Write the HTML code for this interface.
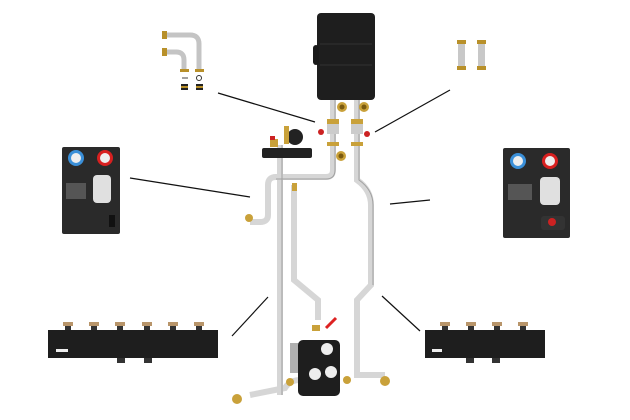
<!DOCTYPE html>
<html><head><meta charset="utf-8"><style>
html,body{margin:0;padding:0;background:#fff;width:630px;height:420px;overflow:hidden}
</style></head><body>
<svg width="630" height="420" viewBox="0 0 630 420" xmlns="http://www.w3.org/2000/svg">
<!-- leader lines -->
<g stroke="#111" stroke-width="1.2">
<line x1="130" y1="178" x2="250" y2="197"/>
<line x1="218" y1="93" x2="315" y2="122"/>
<line x1="375" y1="132" x2="450" y2="90"/>
<line x1="390" y1="204" x2="430" y2="200"/>
<line x1="232" y1="336" x2="268" y2="297"/>
<line x1="382" y1="296" x2="420" y2="331"/>
</g>
<!-- top-left fittings -->
<path d="M166 35 H190 Q199 35 199 44 V70" fill="none" stroke="#c4c4c4" stroke-width="5"/>
<path d="M166 52 H176 Q184 52 184 60 V70" fill="none" stroke="#c4c4c4" stroke-width="5"/>
<rect x="162" y="31" width="5" height="8" fill="#b8902a"/>
<rect x="162" y="48" width="5" height="8" fill="#b8902a"/>
<rect x="180" y="69" width="9" height="3" fill="#b8902a"/>
<rect x="195" y="69" width="9" height="3" fill="#b8902a"/>
<rect x="181" y="84" width="7" height="6" fill="#222"/><rect x="181" y="86" width="7" height="2" fill="#b8902a"/>
<rect x="196" y="84" width="7" height="6" fill="#222"/><rect x="196" y="86" width="7" height="2" fill="#b8902a"/>
<line x1="182" y1="78" x2="188" y2="78" stroke="#444"/>
<circle cx="199" cy="78" r="2.5" fill="none" stroke="#333"/>
<!-- top-right fittings -->
<rect x="458" y="43" width="7" height="25" fill="#c8c8c8"/><rect x="457" y="40" width="9" height="4" fill="#b8902a"/><rect x="457" y="66" width="9" height="4" fill="#b8902a"/>
<rect x="478" y="43" width="7" height="25" fill="#c8c8c8"/><rect x="477" y="40" width="9" height="4" fill="#b8902a"/><rect x="477" y="66" width="9" height="4" fill="#b8902a"/>
<!-- boiler -->
<rect x="317" y="13" width="58" height="87" rx="4" fill="#1e1e1e"/>
<rect x="313" y="45" width="6" height="20" rx="3" fill="#1a1a1a"/>
<line x1="320" y1="44" x2="372" y2="44" stroke="#333"/><line x1="320" y1="65" x2="372" y2="65" stroke="#333"/>
<!-- pipes -->
<g fill="none" stroke="#d6d6d6" stroke-width="6">
<path d="M333 100 V170 Q333 177 326 177 H276 Q268 177 268 185 V215 Q268 222 260 222 H250"/>
<path d="M280 145 V395"/>
<path d="M294 185 V280 L318 300 V320"/>
<path d="M357 100 V180 Q371 190 371 205 V285 L357 300 V375 H385"/>
<path d="M300 380 Q290 380 285 388 L250 395"/>
</g>
<g fill="none" stroke="#a0a0a0" stroke-width="1">
<path d="M335 100 V170 Q335 179 326 179 H276"/>
<path d="M282 145 V395"/>
<path d="M359 100 V180 Q373 190 373 205 V285"/>
</g>
<!-- boiler fittings -->
<circle cx="342" cy="107" r="5" fill="#c9a13a"/><circle cx="342" cy="107" r="2.5" fill="#7a5a10"/>
<circle cx="364" cy="107" r="5" fill="#c9a13a"/><circle cx="364" cy="107" r="2.5" fill="#7a5a10"/>
<rect x="327" y="119" width="12" height="5" fill="#c9a13a"/><rect x="327" y="124" width="12" height="10" fill="#ccc"/><rect x="327" y="142" width="12" height="4" fill="#c9a13a"/>
<rect x="351" y="119" width="12" height="5" fill="#c9a13a"/><rect x="351" y="124" width="12" height="10" fill="#ccc"/><rect x="351" y="142" width="12" height="4" fill="#c9a13a"/>
<circle cx="321" cy="132" r="3" fill="#c22"/><circle cx="367" cy="134" r="3" fill="#c22"/>
<circle cx="341" cy="156" r="5" fill="#c9a13a"/><circle cx="341" cy="156" r="2.5" fill="#7a5a10"/>
<!-- safety group -->
<rect x="262" y="148" width="50" height="10" rx="2" fill="#222"/>
<circle cx="295" cy="137" r="8" fill="#222"/>
<rect x="284" y="126" width="5" height="18" fill="#c9a13a"/>
<rect x="270" y="139" width="8" height="8" fill="#c9a13a"/><rect x="270" y="136" width="5" height="4" fill="#c22"/>
<rect x="292" y="183" width="5" height="8" fill="#c9a13a"/>
<circle cx="249" cy="218" r="4" fill="#c9a13a"/>
<!-- mixing unit -->
<rect x="290" y="343" width="30" height="30" fill="#b0b0b0"/>
<rect x="298" y="340" width="42" height="56" rx="5" fill="#1e1e1e"/>
<circle cx="327" cy="349" r="6" fill="#eee"/><circle cx="315" cy="374" r="6" fill="#eee"/><circle cx="331" cy="372" r="6" fill="#eee"/>
<rect x="312" y="325" width="8" height="6" fill="#c9a13a"/>
<line x1="326" y1="328" x2="336" y2="318" stroke="#d22" stroke-width="3"/>
<circle cx="290" cy="382" r="4" fill="#c9a13a"/><circle cx="347" cy="380" r="4" fill="#c9a13a"/>
<circle cx="385" cy="381" r="5" fill="#c9a13a"/><circle cx="237" cy="399" r="5" fill="#c9a13a"/>
<!-- left pump station -->
<rect x="62" y="147" width="58" height="87" rx="2" fill="#2a2a2a"/>
<circle cx="76" cy="158" r="8" fill="#3a8fd8"/><circle cx="76" cy="158" r="5" fill="#eee"/>
<circle cx="105" cy="158" r="8" fill="#d82020"/><circle cx="105" cy="158" r="5" fill="#eee"/>
<rect x="93" y="175" width="18" height="28" rx="4" fill="#e0e0e0"/>
<rect x="66" y="183" width="20" height="16" fill="#555"/>
<rect x="109" y="215" width="6" height="12" fill="#111"/>
<!-- right pump station -->
<rect x="503" y="148" width="67" height="90" rx="2" fill="#2a2a2a"/>
<circle cx="518" cy="161" r="8" fill="#3a8fd8"/><circle cx="518" cy="161" r="5" fill="#eee"/>
<circle cx="550" cy="161" r="8" fill="#d82020"/><circle cx="550" cy="161" r="5" fill="#eee"/>
<rect x="540" y="177" width="20" height="28" rx="4" fill="#e0e0e0"/>
<rect x="508" y="184" width="24" height="16" fill="#555"/>
<rect x="541" y="216" width="24" height="14" rx="3" fill="#333"/><circle cx="552" cy="222" r="4" fill="#c22"/>
<!-- left manifold -->
<rect x="48" y="330" width="170" height="28" fill="#1e1e1e"/>
<rect x="56" y="349" width="12" height="3" fill="#eee"/>
<g fill="#b8956a"><rect x="63" y="322" width="10" height="4"/><rect x="89" y="322" width="10" height="4"/><rect x="115" y="322" width="10" height="4"/><rect x="142" y="322" width="10" height="4"/><rect x="168" y="322" width="10" height="4"/><rect x="194" y="322" width="10" height="4"/></g>
<g fill="#333"><rect x="65" y="326" width="6" height="4"/><rect x="91" y="326" width="6" height="4"/><rect x="117" y="326" width="6" height="4"/><rect x="144" y="326" width="6" height="4"/><rect x="170" y="326" width="6" height="4"/><rect x="196" y="326" width="6" height="4"/><rect x="117" y="358" width="8" height="5"/><rect x="144" y="358" width="8" height="5"/></g>
<!-- right manifold -->
<rect x="425" y="330" width="120" height="28" fill="#1e1e1e"/>
<rect x="432" y="349" width="10" height="3" fill="#eee"/>
<g fill="#b8956a"><rect x="440" y="322" width="10" height="4"/><rect x="466" y="322" width="10" height="4"/><rect x="492" y="322" width="10" height="4"/><rect x="518" y="322" width="10" height="4"/></g>
<g fill="#333"><rect x="442" y="326" width="6" height="4"/><rect x="468" y="326" width="6" height="4"/><rect x="494" y="326" width="6" height="4"/><rect x="520" y="326" width="6" height="4"/><rect x="466" y="358" width="8" height="5"/><rect x="492" y="358" width="8" height="5"/></g>
</svg>
</body></html>
